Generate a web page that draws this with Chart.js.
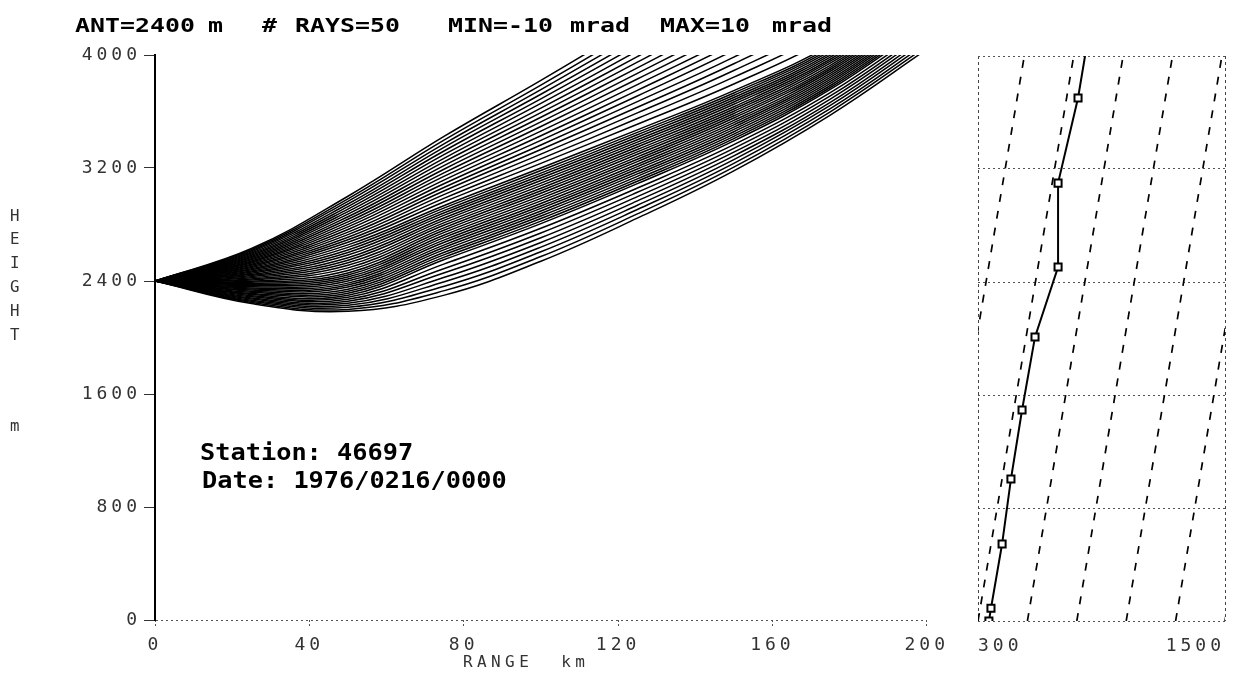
<!DOCTYPE html>
<html>
<head>
<meta charset="utf-8">
<script src="https://cdn.jsdelivr.net/npm/chart.js@4.4.1/dist/chart.umd.min.js"></script>
<style>
  html, body { margin: 0; padding: 0; background: #fff; }
  #wrap { position: relative; width: 1250px; height: 691px; overflow: hidden; }
  .box { position: absolute; top: 0; height: 691px; }
</style>
</head>
<body>
<div id="wrap">
  <div class="box" style="left:0;width:950px"><canvas id="rays"></canvas></div>
  <div class="box" style="left:950px;width:300px"><canvas id="prof"></canvas></div>
</div>
<script>
/* Ray trace plot (height vs range) plus refractivity profile panel */

// ---- data ----
const ANT_HEIGHT = 2400;                       // m, every ray starts here
const RANGE_KM = [0, 25, 50, 75, 100, 125, 150, 175, 200];
const RANGE_TICKS = [0, 40, 80, 120, 160, 200];
const HEIGHT_TICKS = [0, 800, 1600, 2400, 3200, 4000];

// ray heights (m) at each range, ray 0 = lowest launch angle ... ray 49 = highest
const H25 = [2240,2248,2256,2264,2272,2280,2288,2296,2304,2312,2320,2328,2336,2343,2351,2359,2367,2375,2383,2391,2399,2407,2415,2423,2431,2439,2447,2455,2463,2471,2479,2487,2495,2503,2511,2519,2527,2535,2542,2550,2558,2566,2574,2582,2590,2598,2606,2614,2622,2630];
const H50 = [2185,2199,2214,2228,2242,2257,2271,2285,2299,2314,2328,2342,2357,2371,2385,2400,2414,2428,2443,2457,2475,2493,2511,2529,2547,2565,2584,2602,2620,2638,2656,2674,2692,2710,2728,2746,2765,2783,2801,2819,2837,2855,2873,2891,2909,2927,2945,2964,2982,3000];
const H75 = [2300,2332,2363,2395,2426,2458,2489,2521,2552,2569,2587,2604,2622,2639,2656,2674,2691,2709,2726,2744,2761,2778,2796,2813,2831,2848,2866,2883,2900,2918,2935,2961,2987,3013,3039,3064,3090,3116,3142,3167,3193,3219,3245,3270,3296,3322,3348,3373,3399,3425];
const H100 = [2540,2573,2607,2640,2673,2706,2740,2773,2806,2824,2842,2860,2878,2896,2914,2931,2949,2967,2985,3003,3021,3039,3057,3075,3093,3111,3129,3147,3164,3182,3200,3233,3265,3298,3331,3363,3396,3428,3461,3494,3526,3559,3592,3624,3657,3690,3722,3755,3787,3820];
const H125 = [2845,2875,2906,2936,2967,2997,3028,3058,3089,3106,3123,3141,3158,3175,3193,3210,3227,3245,3262,3279,3297,3314,3331,3349,3366,3383,3400,3418,3435,3452,3470,3510,3550,3590,3630,3670,3710,3750,3790,3830,3870,3909,3949,3989,4029,4069,4109,4149,4189,4229];
const H150 = [3180,3206,3233,3259,3286,3312,3339,3365,3392,3408,3424,3440,3457,3473,3489,3505,3521,3537,3554,3570,3586,3602,3618,3634,3651,3667,3683,3699,3715,3731,3748,3795,3843,3890,3938,3985,4033,4080,4127,4175,4222,4270,4317,4364,4412,4459,4507,4554,4601,4649];
const H175 = [3575,3598,3620,3643,3665,3688,3710,3733,3756,3770,3784,3799,3813,3827,3842,3856,3870,3885,3899,3913,3927,3942,3956,3970,3985,3999,4013,4028,4042,4056,4071,4124,4177,4230,4283,4336,4389,4442,4495,4548,4601,4655,4708,4761,4814,4867,4920,4973,5026,5079];
const H200 = [4040,4062,4084,4107,4129,4151,4173,4195,4218,4232,4246,4260,4274,4288,4302,4316,4330,4344,4359,4373,4387,4401,4415,4429,4443,4457,4471,4485,4499,4513,4527,4579,4632,4684,4736,4788,4841,4893,4945,4997,5050,5102,5154,5206,5259,5311,5363,5415,5468,5520];

// modified refractivity profile (right panel)
const PROFILE_H = [0, 90, 545, 1005, 1494, 2011, 2506, 3100, 3703, 4000];
const PROFILE_M = [353, 363, 417, 460, 514, 577, 689, 689, 786, 820];
const M_TICKS = [300, 1500];
// dashed reference gradient lines: M at 0 m and at 4000 m
const REF_M_BOTTOM = [-180, 60, 300, 540, 780, 1020, 1260, 1500];
const REF_M_TOP = [285, 525, 765, 1005, 1245, 1485, 1725, 1965];

// ---- helpers ----
const INK = '#000';
const MONO = '"DejaVu Sans Mono", "Liberation Mono", monospace';

function stretchText(ctx, text, x, y, font, sx, color, spacing) {
  ctx.save();
  ctx.font = font;
  ctx.fillStyle = color;
  ctx.textAlign = 'left';
  ctx.textBaseline = 'alphabetic';
  ctx.letterSpacing = spacing || '0px';
  ctx.translate(x, y);
  ctx.scale(sx, 1);
  ctx.fillText(text, 0, 0);
  ctx.restore();
}

// wide, blocky tick labels like the old plotter font
const spacedTicks = {
  id: 'spacedTicks',
  beforeDraw(chart) { chart.ctx.letterSpacing = '4px'; },
  afterDraw(chart) { chart.ctx.letterSpacing = '0px'; },
};

const rayLabels = {
  id: 'rayLabels',
  afterDraw(chart) {
    const ctx = chart.ctx;
    const tFont = 'bold 19px ' + MONO;
    [['ANT=2400', 75], ['m', 208], ['#', 262], ['RAYS=50', 295],
     ['MIN=-10', 448], ['mrad', 570], ['MAX=10', 660], ['mrad', 772]]
      .forEach(([t, x]) => stretchText(ctx, t, x, 32, tFont, 1.31, INK));

    const sFont = 'bold 23px ' + MONO;
    stretchText(ctx, 'Station: 46697', 200, 460, sFont, 1.1, INK);
    stretchText(ctx, 'Date: 1976/0216/0000', 202, 488, sFont, 1.1, INK);

    stretchText(ctx, 'RANGE  km', 463, 667, '16px ' + MONO, 1.0, '#333', '4.4px');

    const letters = [['H', 215], ['E', 238], ['I', 262], ['G', 286], ['H', 310], ['T', 334], ['m', 425]];
    letters.forEach(([t, y]) => stretchText(ctx, t, 10, y + 6, '15px ' + MONO, 1.05, '#333'));
  },
};

// ---- left chart: the rays ----
const heightCols = [H25, H50, H75, H100, H125, H150, H175, H200];
const rayDatasets = H25.map((_, i) => ({
  data: [{ x: RANGE_KM[0], y: ANT_HEIGHT }].concat(
    heightCols.map((col, j) => ({ x: RANGE_KM[j + 1], y: col[i] }))),
  borderColor: INK,
  borderWidth: 1.5,
  pointRadius: 0,
  tension: 0.4,
  fill: false,
}));

new Chart(document.getElementById('rays'), {
  type: 'line',
  data: { datasets: rayDatasets },
  options: {
    responsive: true,
    maintainAspectRatio: false,
    animation: false,
    parsing: false,
    layout: { padding: { left: 0, top: 55, right: 22, bottom: 0 } },
    plugins: { legend: { display: false }, tooltip: { enabled: false } },
    events: [],
    scales: {
      x: {
        type: 'linear', min: 0, max: 200,
        afterBuildTicks: (s) => { s.ticks = RANGE_TICKS.map((v) => ({ value: v })); },
        afterFit: (s) => { s.height = 71; },
        ticks: { color: '#333', padding: 7, maxRotation: 0, font: { family: MONO, size: 18 },
                 callback: (v) => String(v) },
        grid: { drawOnChartArea: false, drawTicks: true, tickLength: 8, tickColor: '#555',
                tickBorderDash: [2, 2] },
        border: { display: false },
      },
      y: {
        type: 'linear', min: 0, max: 4000,
        afterBuildTicks: (s) => { s.ticks = HEIGHT_TICKS.map((v) => ({ value: v })); },
        afterFit: (s) => { s.width = 155; },
        ticks: { color: '#333', padding: 3, font: { family: MONO, size: 18 },
                 callback: (v) => String(v) },
        grid: {
          drawOnChartArea: true,
          color: (c) => (c.tick && c.tick.value === 0 ? '#555' : 'rgba(0,0,0,0)'),
          tickColor: '#333', tickLength: 11,
        },
        border: { display: true, color: INK, width: 2, dash: [2, 3] },
      },
    },
  },
  plugins: [spacedTicks, rayLabels],
});

// ---- right chart: refractivity profile ----
const refDatasets = REF_M_BOTTOM.map((m0, i) => ({
  data: [{ x: m0, y: 0 }, { x: REF_M_TOP[i], y: 4000 }],
  borderColor: INK,
  borderWidth: 1.7,
  borderDash: [8, 9],
  pointRadius: 0,
  fill: false,
}));

const profileDataset = {
  data: PROFILE_M.map((m, i) => ({ x: m, y: PROFILE_H[i] })),
  borderColor: INK,
  borderWidth: 2,
  pointStyle: 'rect',
  pointRadius: PROFILE_H.map((h, i) => (i === PROFILE_H.length - 1 ? 0 : 5)),
  pointBackgroundColor: '#fff',
  pointBorderColor: INK,
  pointBorderWidth: 2,
  fill: false,
  tension: 0,
};

new Chart(document.getElementById('prof'), {
  type: 'line',
  data: { datasets: refDatasets.concat([profileDataset]) },
  options: {
    responsive: true,
    maintainAspectRatio: false,
    animation: false,
    parsing: false,
    layout: { padding: { left: 28, top: 56, right: 25, bottom: 0 } },
    plugins: { legend: { display: false }, tooltip: { enabled: false } },
    events: [],
    scales: {
      x: {
        type: 'linear', min: 300, max: 1500,
        afterBuildTicks: (s) => { s.ticks = M_TICKS.map((v) => ({ value: v })); },
        afterFit: (s) => { s.height = 70; },
        ticks: { color: '#333', align: 'inner', padding: 15, maxRotation: 0,
                 font: { family: MONO, size: 18 }, callback: (v) => String(v) },
        grid: { drawOnChartArea: true, drawTicks: false, color: '#444', lineWidth: 1 },
        border: { display: false, dash: [3, 3] },
      },
      y: {
        type: 'linear', min: 0, max: 4000,
        afterBuildTicks: (s) => { s.ticks = HEIGHT_TICKS.map((v) => ({ value: v })); },
        afterFit: (s) => { s.width = 0; },
        ticks: { display: false },
        grid: { drawOnChartArea: true, drawTicks: false, color: '#555', lineWidth: 1 },
        border: { display: false, dash: [2, 3] },
      },
    },
  },
  plugins: [spacedTicks],
});
</script>
</body>
</html>
